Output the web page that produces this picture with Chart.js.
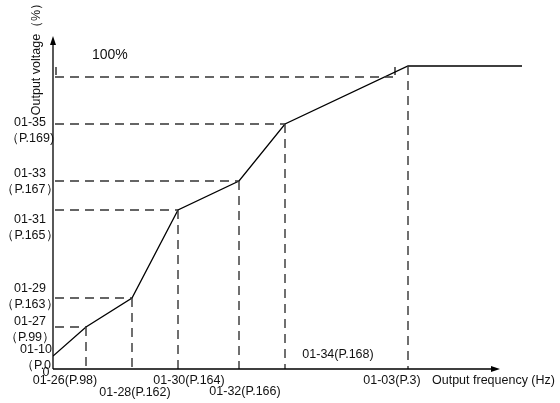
<!DOCTYPE html>
<html>
<head>
<meta charset="utf-8">
<script src="https://cdn.jsdelivr.net/npm/chart.js@4"></script>
<style>
  html, body { margin: 0; padding: 0; background: #fff; }
  #wrap { width: 560px; height: 403px; }
</style>
</head>
<body>
<div id="wrap"><canvas id="vfChart" width="560" height="403"></canvas></div>
<script>
// breakpoints of the V/F curve (schematic units)
const freqLabels = ['01-26(P.98)', '01-28(P.162)', '01-30(P.164)', '01-32(P.166)', '01-34(P.168)', '01-03(P.3)'];
const freqValues = [33, 79, 125, 186, 232, 355];
const voltLabels = [['01-10', '（P.0'], ['01-27', '（P.99）'], ['01-29', '（P.163）'], ['01-31', '（P.165）'], ['01-33', '（P.167）'], ['01-35', '（P.169)']];
const voltValues = [13, 42, 71, 159, 188, 245];
const ratedVolt = 303;   // flat top of the curve
const fullVolt = 292;    // 100% guide line
const maxFreq = 469;
const maxVolt = 333;
const axisEndFreq = 447;

const FONT = "'Liberation Sans', Arial, sans-serif";

// curve points
const curve = [{ x: 0, y: voltValues[0] }];
for (let i = 0; i < 5; i++) curve.push({ x: freqValues[i], y: voltValues[i + 1] });
curve.push({ x: freqValues[5], y: ratedVolt });
curve.push({ x: maxFreq, y: ratedVolt });

// dashed guides: horizontal to the axis, vertical down to the axis
const guides = [];
for (let i = 1; i < curve.length - 1; i++) {
    const p = curve[i];
    if (i < curve.length - 2) {
        guides.push({ x: 2, y: p.y }, { x: p.x, y: p.y }, { x: null, y: null });
    }
    guides.push({ x: p.x, y: p.y }, { x: p.x, y: 0 }, { x: null, y: null });
}
guides.push({ x: 2, y: fullVolt }, { x: 340, y: fullVolt });

// little break marks
const marks = [
    { x: 3, y: 294 }, { x: 3, y: 302 }, { x: null, y: null },
    { x: 342, y: 294 }, { x: 342, y: 302 }
];

const axesAndText = {
    id: 'axesAndText',
    afterDatasetsDraw(chart) {
        const c = chart.ctx;
        const xs = chart.scales.x, ys = chart.scales.y;
        const x0 = xs.getPixelForValue(0), y0 = ys.getPixelForValue(0);
        const yTop = ys.getPixelForValue(maxVolt), xEnd = xs.getPixelForValue(axisEndFreq);
        c.save();
        c.strokeStyle = '#000';
        c.fillStyle = '#000';
        c.lineWidth = 1.3;
        c.beginPath();
        c.moveTo(x0, y0); c.lineTo(x0, yTop + 6);
        c.moveTo(x0, y0); c.lineTo(xEnd - 6, y0);
        c.stroke();
        c.beginPath();
        c.moveTo(x0, yTop); c.lineTo(x0 - 3, yTop + 9); c.lineTo(x0 + 3, yTop + 9); c.closePath();
        c.moveTo(xEnd, y0); c.lineTo(xEnd - 9, y0 - 3); c.lineTo(xEnd - 9, y0 + 3); c.closePath();
        c.fill();

        c.font = '12.5px ' + FONT;
        c.fillStyle = '#111';
        c.textBaseline = 'middle';

        // x labels
        const xOff = [[-21, 12], [3, 24], [11, 12], [6, 23], [53, -14], [-16, 12]];
        c.textAlign = 'center';
        freqLabels.forEach((t, i) => {
            c.fillText(t, xs.getPixelForValue(freqValues[i]) + xOff[i][0], y0 + xOff[i][1]);
        });
        c.textAlign = 'left';
        c.fillText('Output frequency (Hz)', xEnd - 68, y0 + 12);

        // y labels
        const yOff = [-6, -5, -9, 10, -7, -1];
        c.textAlign = 'center';
        voltLabels.forEach((t, i) => {
            const cx = i === 0 ? x0 - 17 : x0 - 23;
            const yy = ys.getPixelForValue(voltValues[i]) + yOff[i];
            c.fillText(t[0], cx, yy);
            c.fillText(t[1], cx, yy + 16);
        });
        c.fillText('0', x0 - 7, y0 + 4);

        c.font = '14px ' + FONT;
        c.textAlign = 'left';
        c.fillText('100%', x0 + 39, ys.getPixelForValue(fullVolt) - 22);

        c.font = '12.5px ' + FONT;
        c.translate(x0 - 16, 56);
        c.rotate(-Math.PI / 2);
        c.textAlign = 'center';
        c.fillText('Output voltage（%）', 0, 0);
        c.restore();
    }
};

const vfChart = new Chart(document.getElementById('vfChart'), {
    type: 'scatter',
    data: {
        datasets: [
            {
                label: 'guides',
                data: guides,
                showLine: true,
                spanGaps: false,
                borderColor: '#333',
                borderWidth: 1.4,
                borderDash: [9, 6],
                pointRadius: 0
            },
            {
                label: 'marks',
                data: marks,
                showLine: true,
                spanGaps: false,
                borderColor: '#000',
                borderWidth: 1.2,
                pointRadius: 0
            },
            {
                label: 'V/F',
                data: curve,
                showLine: true,
                borderColor: '#000',
                borderWidth: 1.3,
                pointRadius: 0
            }
        ]
    },
    options: {
        responsive: false,
        animation: false,
        devicePixelRatio: 1,
        layout: { padding: { left: 53, right: 38, top: 36, bottom: 34 } },
        plugins: { legend: { display: false }, tooltip: { enabled: false } },
        scales: {
            x: { type: 'linear', min: 0, max: maxFreq, display: false },
            y: { type: 'linear', min: 0, max: maxVolt, display: false }
        }
    },
    plugins: [axesAndText]
});
</script>
</body>
</html>
